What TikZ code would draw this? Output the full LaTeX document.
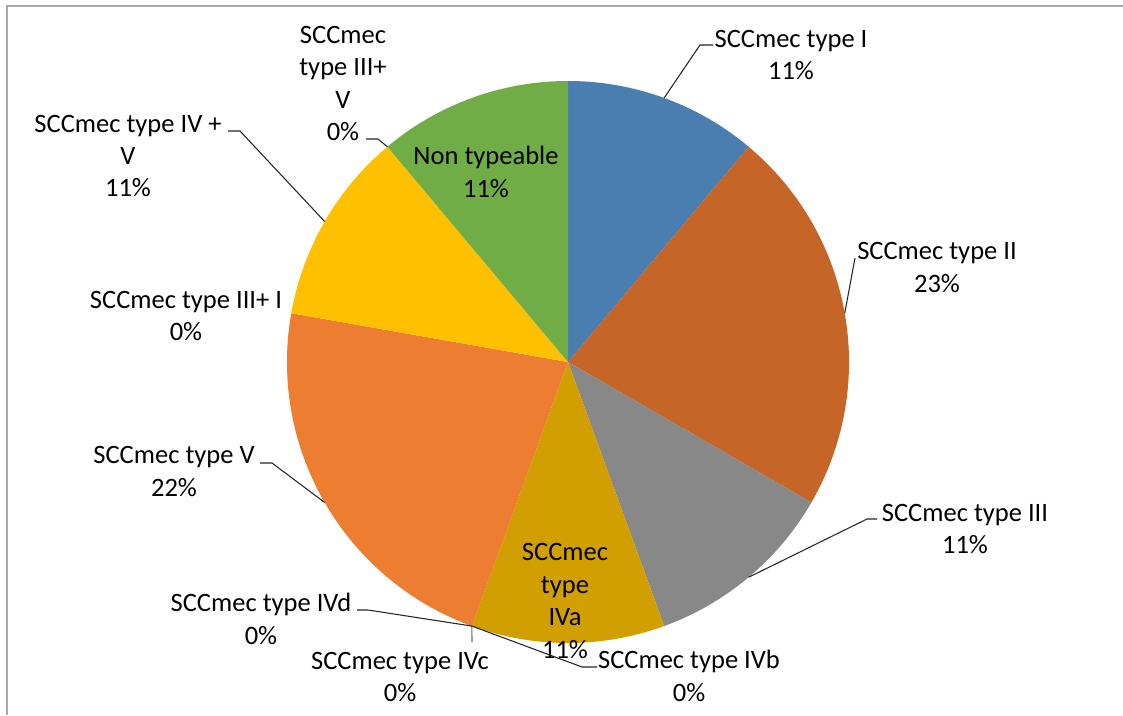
\documentclass[tikz,border=0pt]{standalone}
\usepackage{fontspec}
\setmainfont{Carlito}
\usepackage[dvipsnames]{xcolor}
\usepackage{tikz}

\definecolor{sliceI}{RGB}{74,126,177}
\definecolor{sliceII}{RGB}{197,101,40}
\definecolor{sliceIII}{RGB}{136,136,136}
\definecolor{sliceIVa}{RGB}{209,160,0}
\definecolor{sliceV}{RGB}{237,125,49}
\definecolor{sliceIVV}{RGB}{255,192,0}
\definecolor{sliceNT}{RGB}{112,173,71}
\definecolor{frame}{RGB}{170,170,170}

\tikzset{
  lbl/.style={align=center, inner sep=0pt, font=\fontsize{19.9}{24.3}\selectfont},
  leader/.style={black!85, line width=0.8pt},
}

\begin{document}
\begin{tikzpicture}[x=0.75pt, y=0.75pt]
                \useasboundingbox (0,0) rectangle (1123,715);

                % Frame of the chart area
                \draw[frame, line width=1pt] (7,0) -- (7,709) -- (1123,709);

                % Centre of the pie
                \coordinate (c) at (568,353);

                % Slices, clockwise from the top (1/9 = 40 degrees)
                \fill[sliceI] (c) -- ++(90:281) arc[start angle=90, end angle=50, radius=281] -- cycle;
                \fill[sliceII] (c) -- ++(50:281) arc[start angle=50, end angle=-30, radius=281] -- cycle;
                \fill[sliceIII] (c) -- ++(-30:281) arc[start angle=-30, end angle=-70, radius=281] -- cycle;
                \fill[sliceIVa] (c) -- ++(-70:281) arc[start angle=-70, end angle=-110, radius=281] -- cycle;
                \fill[sliceV] (c) -- ++(250:281) arc[start angle=250, end angle=170, radius=281] -- cycle;
                \fill[sliceIVV] (c) -- ++(170:281) arc[start angle=170, end angle=130, radius=281] -- cycle;
                \fill[sliceNT] (c) -- ++(130:281) arc[start angle=130, end angle=90, radius=281] -- cycle;

                % Points on the rim where the leaders start
                \path (c) ++(70:281) coordinate (eI);
                \path (c) ++(10:281) coordinate (eII);
                \path (c) ++(-50:281) coordinate (eIII);
                \path (c) ++(250:281) coordinate (eIV); % the three 0% slices sit here
                \path (c) ++(210:281) coordinate (eV);
                \path (c) ++(150:281) coordinate (eIVV);
                \path (c) ++(130:281) coordinate (eIIIV);

                % Labels
                \node[lbl] (lI) at (791,660) {SCCmec type I\\11\%};
                \node[lbl] (lII) at (937,447.5) {SCCmec type II\\23\%};
                \node[lbl] (lIII) at (965,186) {SCCmec type III\\11\%};
                \node[lbl] (lIVa) at (565,114) {SCCmec\\type\\IVa\\11\%};
                \node[lbl] (lIVb) at (689,39) {SCCmec type IVb\\0\%};
                \node[lbl] (lIVc) at (400,38) {SCCmec type IVc\\0\%};
                \node[lbl] (lIVd) at (261,96) {SCCmec type IVd\\0\%};
                \node[lbl] (lV) at (174,243.5) {SCCmec type V\\22\%};
                \node[lbl] (lIIII) at (186,399) {SCCmec type III+ I\\0\%};
                \node[lbl] (lIVV) at (128,559) {SCCmec type IV +\\V\\11\%};
                \node[lbl] (lIIIV) at (343,631.5) {SCCmec\\type III+\\V\\0\%};
                \node[lbl] (lNT) at (486,543) {Non typeable\\11\%};

                % Leader lines
                \coordinate (bI) at (700,670);   \coordinate (tI) at (713,670);
                \coordinate (tII) at (855,457);
                \coordinate (bIII) at (867,196); \coordinate (tIII) at (877,196);
                \coordinate (bIVb) at (582,48);  \coordinate (tIVb) at (597,48);
                \coordinate (tIVc) at (472,73);
                \coordinate (bIVd) at (368,105); \coordinate (tIVd) at (357,105);
                \coordinate (bV) at (272,252);   \coordinate (tV) at (260,252);
                \coordinate (bIVV) at (240,584); \coordinate (tIVV) at (228,584);
                \coordinate (bIIIV) at (378,576); \coordinate (tIIIV) at (366,576);

                \draw[leader] (eI) -- (bI) -- (tI);
                \draw[leader] (eII) -- (tII);
                \draw[leader] (eIII) -- (bIII) -- (tIII);
                \draw[leader] (eIV) -- (bIVb) -- (tIVb);
                \draw[leader, black!60] (eIV) -- (tIVc);
                \draw[leader] (eIV) -- (bIVd) -- (tIVd);
                \draw[leader] (eV) -- (bV) -- (tV);
                \draw[leader] (eIVV) -- (bIVV) -- (tIVV);
                \draw[leader] (eIIIV) -- (bIIIV) -- (tIIIV);

            \end{tikzpicture}
\end{document}
